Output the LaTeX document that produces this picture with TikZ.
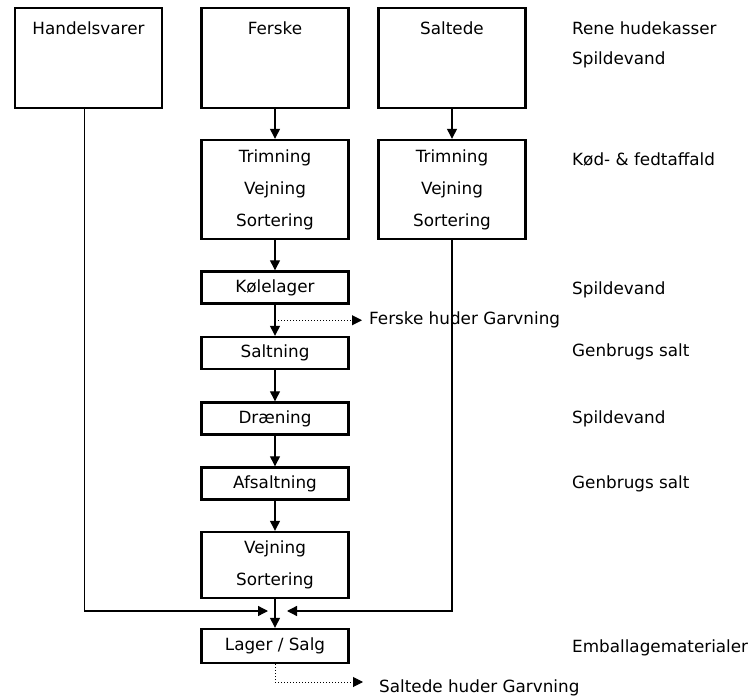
\documentclass[tikz,border=0pt]{standalone}
\usepackage{fontspec}
\setmainfont{DejaVu Sans}
\usetikzlibrary{arrows.meta,calc}
\begin{document}
\begin{tikzpicture}[x=1pt,y=-1pt,
  font=\fontsize{16.8}{32}\selectfont,
  box/.style={draw,line width=2.4pt,inner sep=0pt,minimum width=147pt,align=center},
  conn/.style={line width=1.3pt},
  arr/.style={line width=1.3pt,-{Triangle[length=10pt,width=10pt]}},
  dotarr/.style={line width=1pt,dotted,-{Triangle[length=10pt,width=10pt]}},
  lab/.style={anchor=west,inner sep=0pt}]
\useasboundingbox (0,0) rectangle (755,700);
% top boxes
\node[box,minimum height=100pt] (hand) at (88.5,58) {};
\node[box,minimum height=100pt] (fersk) at (275,58) {};
\node[box,minimum height=100pt] (salt) at (452,58) {};
\node (handt) at (88.5,28) {Handelsvarer};
\node (ferskt) at (275,28) {Ferske};
\node (saltt) at (452,28) {Saltede};
% process boxes
\node[box,minimum height=99pt] (trim1) at (275,189.5) {Trimning\\Vejning\\Sortering};
\node[box,minimum height=99pt] (trim2) at (452,189.5) {Trimning\\Vejning\\Sortering};
\node[box,minimum height=32pt] (kol) at (275,287.5) {Kølelager};
\node[box,minimum height=32pt] (saltn) at (275,353) {Saltning};
\node[box,minimum height=32pt] (draen) at (275,418.5) {Dræning};
\node[box,minimum height=32pt] (afs) at (275,483.5) {Afsaltning};
\node[box,minimum height=66pt] (vejn) at (275,565) {Vejning\\Sortering};
\node[box,minimum height=34pt] (lager) at (275,646) {Lager / Salg};
% arrows main column
\draw[arr] (fersk) -- (trim1);
\draw[arr] (salt) -- (trim2);
\draw[arr] (trim1) -- (kol);
\draw[arr] (kol) -- (saltn);
\draw[arr] (saltn) -- (draen);
\draw[arr] (draen) -- (afs);
\draw[arr] (afs) -- (vejn);
\draw[arr] (vejn) -- (lager);
% merging lines
\coordinate (mL) at (268,611);
\coordinate (mR) at (287,611);
\coordinate (hs) at ($(hand.south)+(-4,0)$);
\draw[arr] (hs) |- (mL);
\draw[arr] (trim2.south) |- (mR);
% side outputs
\node[lab] (fht) at (369,320) {Ferske huder Garvning};
\coordinate (kmid) at ($(kol.south)!0.5!(saltn.north)$);
\draw[dotarr,shorten >=7pt] (kmid) -- (fht.west |- kmid);
\node[lab] (sht) at (379,688) {Saltede huder Garvning};
\coordinate (send) at (363,682);
\draw[dotarr] (lager.south) |- (send);
% right labels
\node[lab] (r1) at (572,28) {Rene hudekasser};
\node[lab] (r2) at (572,60) {Spildevand};
\node[lab] (r3) at (572,160) {Kød- \& fedtaffald};
\node[lab] (r4) at (572,290) {Spildevand};
\node[lab] (r5) at (572,352) {Genbrugs salt};
\node[lab] (r6) at (572,419) {Spildevand};
\node[lab] (r7) at (572,484) {Genbrugs salt};
\node[lab] (r8) at (572,648) {Emballagematerialer};
\end{tikzpicture}
\end{document}
